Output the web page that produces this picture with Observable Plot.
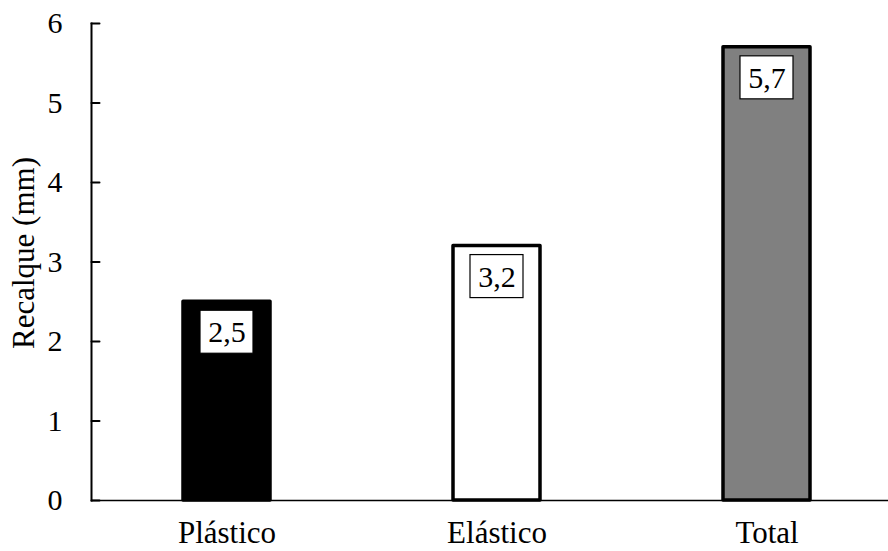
<!DOCTYPE html>
<html><head><meta charset="utf-8">
<script src="https://cdn.jsdelivr.net/npm/d3@7"></script>
<script src="https://cdn.jsdelivr.net/npm/@observablehq/plot@0.6"></script>
<style>body{margin:0;background:#fff;}</style>
</head><body><div id="chart"></div>
<script>
const categories = ["Plástico", "Elástico", "Total"];
const values = [2.5, 3.2, 5.7];
const valueLabels = ["2,5", "3,2", "5,7"];
const fills = ["#000000", "#ffffff", "#808080"];
const yTicks = [0, 1, 2, 3, 4, 5, 6];
const yLabel = "Recalque (mm)";

const data = categories.map((c, i) => ({category: c, value: values[i], label: valueLabels[i], fill: fills[i]}));
const font = "'Liberation Serif', 'Times New Roman', serif";
const tickShape = {draw(context, l) { context.moveTo(0, 0); context.lineTo(0, -l); }};

const chart = Plot.plot({
  width: 888, height: 551,
  marginLeft: 91, marginRight: 0, marginTop: 23, marginBottom: 51,
  style: {fontFamily: font, fontSize: "30px", background: "#fff", color: "#000", overflow: "visible"},
  color: {type: "identity"},
  x: {domain: categories, range: [91, 901], paddingInner: 0.678, paddingOuter: 0.339, align: 0.5, label: null},
  y: {domain: [0, 6], label: null},
  marks: [
    Plot.barY(data, {x: "category", y: "value", fill: "fill", stroke: "#000", strokeWidth: 3.5, strokeLinejoin: "round"}),
    Plot.barY(data, {x: "category", y1: d => d.value - 0.113, y2: d => d.value - 0.654, fill: "#fff", stroke: "#000", strokeWidth: 1.2, insetLeft: 17, insetRight: 17}),
    Plot.text(data, {x: "category", y: "value", text: "label", dy: 31, fontSize: 30, lineAnchor: "middle", fill: "#000"}),
    Plot.ruleY([0], {stroke: "#000", strokeWidth: 1.5}),
    Plot.frame({anchor: "left", stroke: "#000", strokeWidth: 2}),
    Plot.vector(yTicks, {y: d => d, frameAnchor: "left", length: 8, rotate: 90, anchor: "start", shape: tickShape, stroke: "#000", strokeWidth: 2}),
    Plot.axisY({ticks: yTicks, tickFormat: d3.format("d"), tickSize: 0, tickPadding: 29, fontSize: 30, label: null}),
    Plot.axisX({tickSize: 0, tickPadding: 20, fontSize: 31, label: null}),
    Plot.text([yLabel], {frameAnchor: "left", dx: -67, dy: -9, rotate: -90, textAnchor: "middle", lineAnchor: "middle", fontSize: 31, fill: "#000"})
  ]
});
document.getElementById("chart").appendChild(chart);
</script>
</body></html>
